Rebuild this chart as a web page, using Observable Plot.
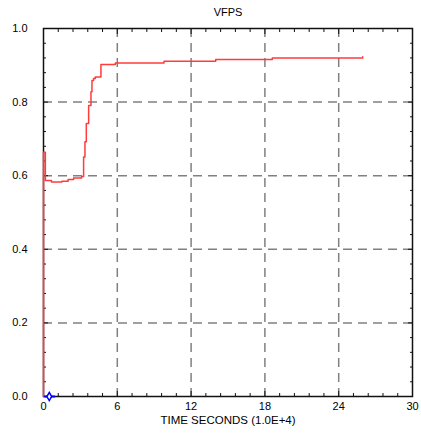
<!DOCTYPE html>
<html>
<head>
<meta charset="utf-8">
<script src="https://cdn.jsdelivr.net/npm/d3@7"></script>
<script src="https://cdn.jsdelivr.net/npm/@observablehq/plot@0.6"></script>
<style>
  html, body { margin: 0; padding: 0; background: #fff; }
  #chart svg { display: block; }
</style>
</head>
<body>
<div id="chart"></div>
<script>
const title = "VFPS";
const xLabel = "TIME SECONDS (1.0E+4)";

// VFPS red series (time in 1.0E+4 s, value)
const vfpsTime  = [0, 0, 0.15, 0.65, 1.5, 2.0, 2.45, 3.1, 3.26, 3.37, 3.48, 3.67, 3.86, 3.94, 4.07, 4.21, 4.67, 5.84, 9.8, 14.0, 18.6, 25.9, 25.95];
const vfpsValue = [0, 0.664, 0.587, 0.583, 0.585, 0.590, 0.594, 0.598, 0.651, 0.692, 0.742, 0.791, 0.828, 0.859, 0.864, 0.868, 0.902, 0.906, 0.911, 0.916, 0.920, 0.920, 0.923];

// small blue series near origin
const blueTime  = [0.1, 0.9];
const blueValue = [0, 0];
const blueMarkTime = [0.47];
const blueMarkValue = [0];

const xTicks = [0, 6, 12, 18, 24, 30];
const yTicks = [0, 0.2, 0.4, 0.6, 0.8, 1.0];
const xGrid = [6, 12, 18, 24];
const yGrid = [0.2, 0.4, 0.6, 0.8];
const xMinor = d3.range(0, 30.01, 1.2).filter(v => !xTicks.some(t => Math.abs(t - v) < 1e-6));
const yMinor = d3.range(0, 1.001, 0.04).filter(v => !yTicks.some(t => Math.abs(t - v) < 1e-6));

const red = vfpsTime.map((t, i) => ({t, v: vfpsValue[i]}));
const blue = blueTime.map((t, i) => ({t, v: blueValue[i]}));
const blueMarks = blueMarkTime.map((t, i) => ({t, v: blueMarkValue[i]}));

const font = "'Liberation Sans', Arial, sans-serif";
const tickStroke = "#111";

const chart = Plot.plot({
  width: 421,
  height: 434,
  marginLeft: 43,
  marginRight: 9,
  marginTop: 28,
  marginBottom: 38,
  style: {fontFamily: font, fontSize: "11px", color: "#000", background: "#fff"},
  x: {domain: [0, 30], label: null},
  y: {domain: [0, 1], label: null},
  marks: [
    Plot.gridX(xGrid, {stroke: "#808080", strokeOpacity: 1, strokeWidth: 1.5, strokeDasharray: "9,6"}),
    Plot.gridY(yGrid, {stroke: "#808080", strokeOpacity: 1, strokeWidth: 1.5, strokeDasharray: "9,6"}),
    // inward ticks on all four sides
    Plot.axisX(xMinor, {anchor: "bottom", tickSize: -3, text: null, label: null, stroke: tickStroke}),
    Plot.axisX(xTicks, {anchor: "bottom", tickSize: -5, text: null, label: null, stroke: tickStroke}),
    Plot.axisX(xMinor, {anchor: "top", tickSize: -3, text: null, label: null, stroke: tickStroke}),
    Plot.axisX(xTicks, {anchor: "top", tickSize: -5, text: null, label: null, stroke: tickStroke}),
    Plot.axisY(yMinor, {anchor: "left", tickSize: -3, text: null, label: null, stroke: tickStroke}),
    Plot.axisY(yTicks, {anchor: "left", tickSize: -5, text: null, label: null, stroke: tickStroke}),
    Plot.axisY(yMinor, {anchor: "right", tickSize: -3, text: null, label: null, stroke: tickStroke}),
    Plot.axisY(yTicks, {anchor: "right", tickSize: -5, text: null, label: null, stroke: tickStroke}),
    // tick labels
    Plot.axisX(xTicks, {anchor: "bottom", tickSize: 0, tickPadding: 6, label: null, tickFormat: d => String(d), fontSize: 11}),
    Plot.axisY(yTicks, {anchor: "left", tickSize: 0, tickPadding: 16, label: null, tickFormat: d3.format(".1f"), fontSize: 11}),
    Plot.frame({stroke: "#111", strokeWidth: 1.5}),
    Plot.line(red, {x: "t", y: "v", stroke: "#ff3b3b", strokeWidth: 1.5, curve: "step-after"}),
    Plot.line(blue, {x: "t", y: "v", stroke: "#0000ff", strokeWidth: 2}),
    Plot.dot(blueMarks, {x: "t", y: "v", symbol: "diamond", r: 2.5, stroke: "#0000ff", fill: "#fff", strokeWidth: 1.5}),
    Plot.text([title], {frameAnchor: "top", lineAnchor: "middle", dy: -16, fontSize: 11, fill: "#000"}),
    Plot.text([xLabel], {frameAnchor: "bottom", lineAnchor: "middle", dy: 24, fontSize: 11.5, fill: "#000"})
  ]
});
document.getElementById("chart").appendChild(chart);
</script>
</body>
</html>
